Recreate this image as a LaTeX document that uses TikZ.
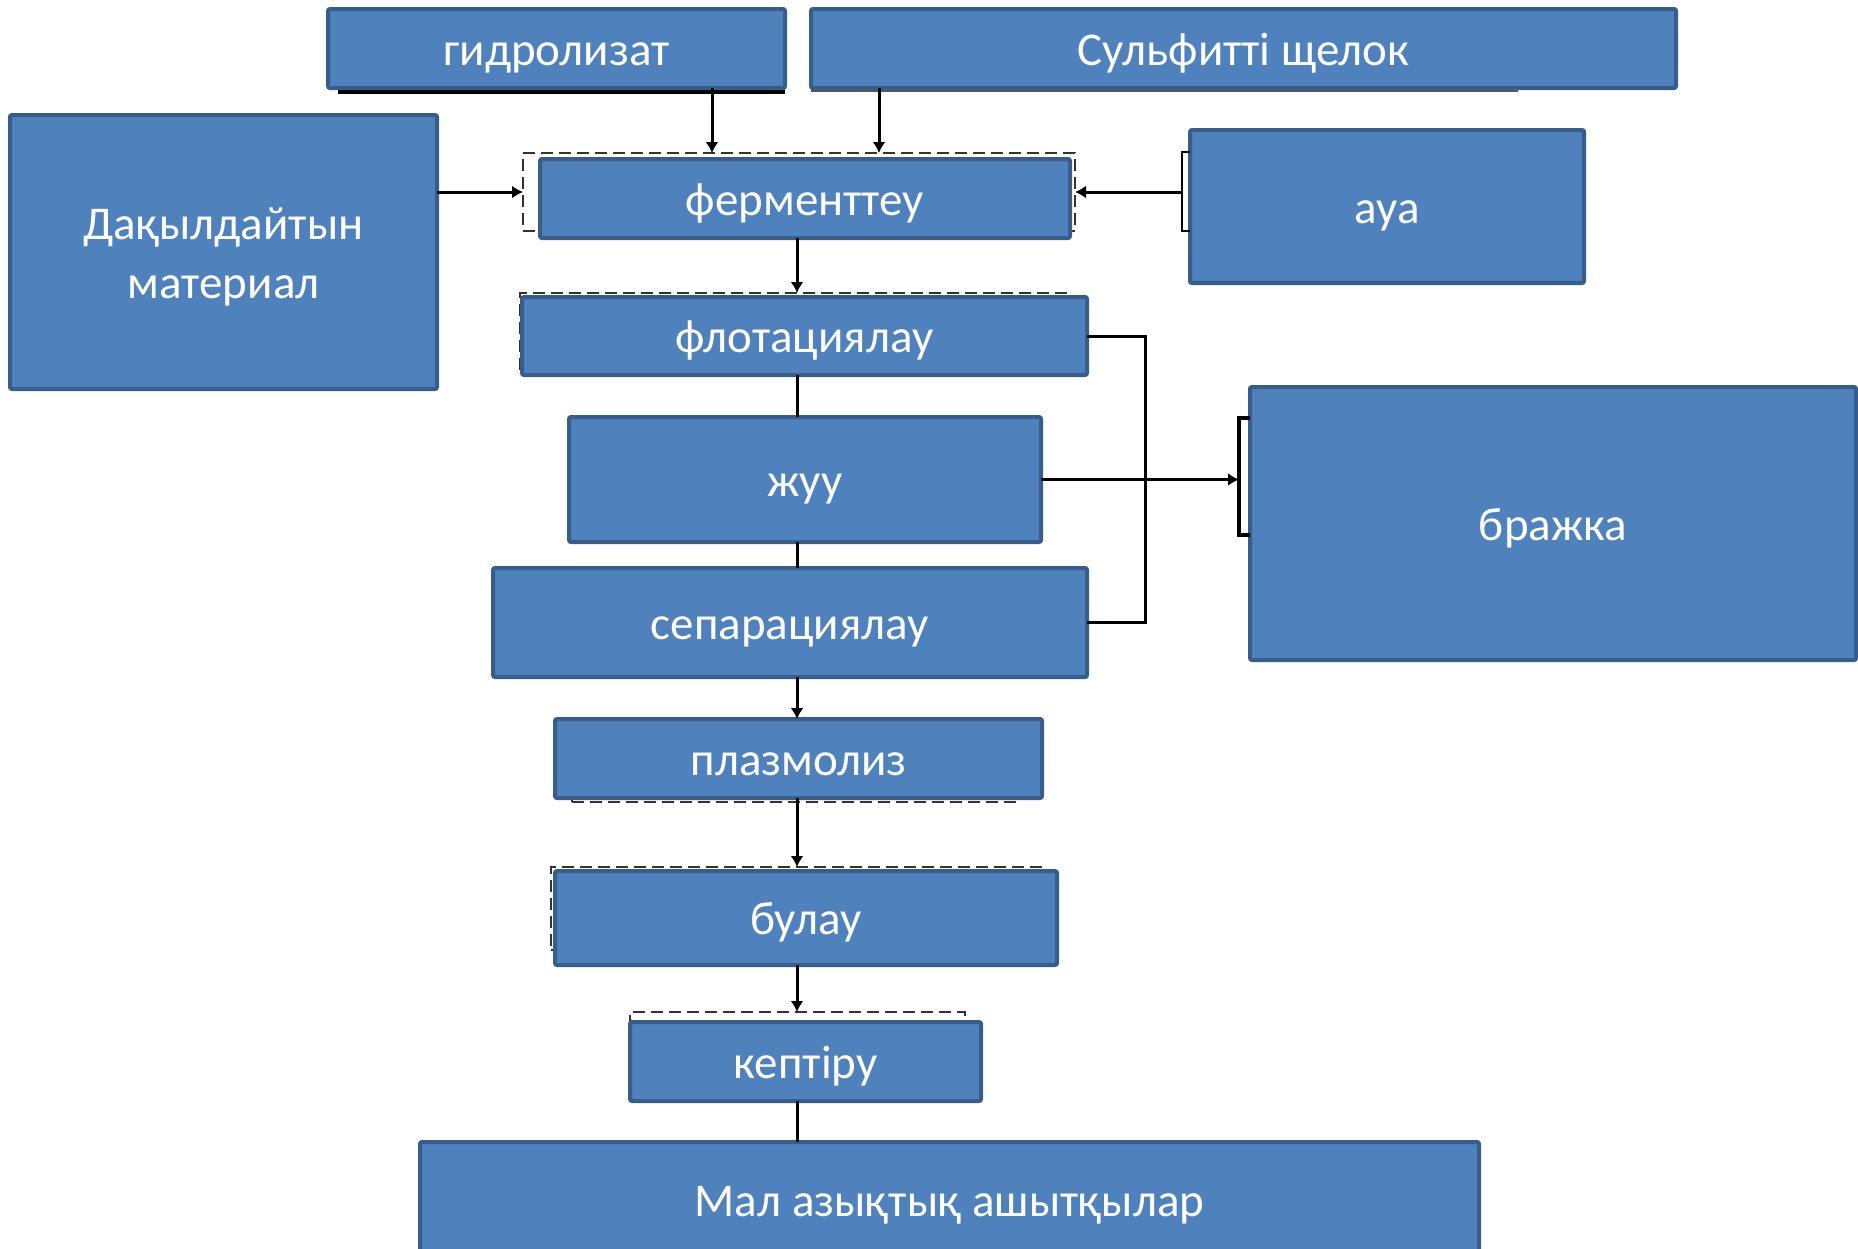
\documentclass[tikz,border=0pt]{standalone}
\usepackage{fontspec}
\setmainfont{Carlito}
\usetikzlibrary{arrows.meta}

\definecolor{boxfill}{HTML}{4F81BD}
\definecolor{boxline}{HTML}{385D8A}

\tikzset{
	blk/.style={draw=boxline, fill=boxfill, line width=2pt, text=white, inner sep=0pt, outer sep=0pt,
		align=center, rounded corners=1pt, text height=16.5pt, text depth=0pt,
		font=\fontsize{23.5}{29.5}\selectfont},
	dbox/.style={draw=black!80, dash pattern=on 6pt off 3pt, line width=1.3pt, inner sep=0pt, outer sep=0pt},
	arr/.style={line width=1.5pt, -{Latex[length=5.5pt,width=6.5pt]}},
	ln/.style={line width=1.5pt},
}

\begin{document}
\begin{tikzpicture}[x=0.5pt, y=-0.5pt]

	\useasboundingbox (0,0) rectangle (1858,1248);

	% dashed frames behind the boxes
	\node[dbox, minimum width=276pt, minimum height=39pt] (fermd) at (799,192) {};
	\node[dbox, minimum width=274.5pt, minimum height=39.5pt] (flotd) at (794.5,332.5) {};
	\node[dbox, minimum width=224pt, minimum height=38.5pt] (plazd) at (796,763.5) {};
	\node[dbox, minimum width=246pt, minimum height=41.5pt] (buld) at (797,908.5) {};
	\node[dbox, minimum width=167.5pt, minimum height=41.5pt] (keptd) at (797.5,1053.5) {};

	% shadows
	\fill[black] (338,86) rectangle (785,94);
	\fill[black!65] (811,86) rectangle (1518,92);

	% boxes
	\node[blk, minimum width=228.5pt, minimum height=39.5pt] (hydro) at (556.5,48.5) {гидролизат};
	\node[blk, minimum width=432.5pt, minimum height=39.5pt] (sulf) at (1243.5,48.5) {Сульфитті щелок};
	\node[blk, text height=46pt, minimum width=213.5pt, minimum height=137pt] (culture) at (223.5,252) {Дақылдайтын\\материал};
	\node[blk, minimum width=265pt, minimum height=39.5pt] (ferm) at (805,198.5) {ферменттеу};
	\node[blk, minimum width=197pt, minimum height=76.5pt] (aua) at (1387,206.5) {ауа};
	\node[blk, minimum width=282.5pt, minimum height=39pt] (flot) at (804.5,336) {флотациялау};
	\node[blk, minimum width=236pt, minimum height=62.5pt] (zhuu) at (805,479.5) {жуу};
	\node[blk, minimum width=297pt, minimum height=54.5pt] (separ) at (790,622.5) {сепарациялау};
	\node[blk, minimum width=303pt, minimum height=136.5pt] (brazhka) at (1553,523.5) {бражка};
	\node[blk, minimum width=243.5pt, minimum height=39.5pt] (plazm) at (798.5,758.5) {плазмолиз};
	\node[blk, minimum width=251pt, minimum height=47pt] (bulau) at (806,918) {булау};
	\node[blk, minimum width=175.5pt, minimum height=39.5pt] (kept) at (805.5,1061.5) {кептіру};
	\node[blk, text height=12.5pt, minimum width=529.5pt, minimum height=62pt] (mal) at (949.5,1204) {Мал азықтық ашытқылар};

	% connectors
	\coordinate (trunk) at (797,0);
	\coordinate (hx) at (712,0);
	\coordinate (sx) at (879,0);
	\coordinate (auab) at (1182,192);
	\coordinate (brb) at (1239,478);

	\draw[arr] (hydro.south -| hx) -- (fermd.north -| hx);
	\draw[arr] (sulf.south -| sx) -- (fermd.north -| sx);
	\draw[arr] (culture.east |- fermd.west) -- (fermd.west);
	\draw[line width=1pt] (aua.west) ++(0,-54.5) -- ++(-8,0) -- ++(0,79) -- ++(8,0);
	\draw[arr] (auab) -- (fermd.east);
	\draw[arr] (ferm.south -| trunk) -- (flotd.north -| trunk);
	\draw[ln] (flot.south -| trunk) -- (zhuu.north -| trunk);
	\draw[ln] (zhuu.south -| trunk) -- (separ.north -| trunk);
	\draw[ln] (flot.east) -- ++(58,0) |- (separ.east);
	\draw[line width=2pt] (brazhka.west) ++(0,-105.5) -- ++(-11,0) -- ++(0,117) -- ++(11,0);
	\draw[arr] (zhuu.east) -- (zhuu.east -| brb);
	\draw[arr] (separ.south -| trunk) -- (plazm.north -| trunk);
	\draw[arr] (plazm.south -| trunk) -- (buld.north -| trunk);
	\draw[arr] (bulau.south -| trunk) -- (keptd.north -| trunk);
	\draw[ln] (kept.south -| trunk) -- (mal.north -| trunk);

\end{tikzpicture}
\end{document}
